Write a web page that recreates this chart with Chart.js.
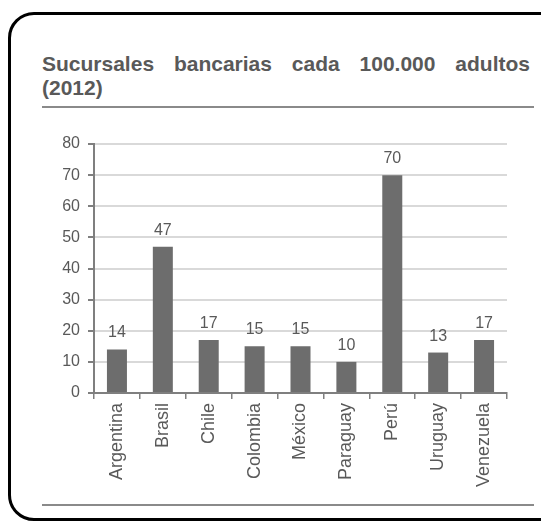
<!DOCTYPE html>
<html>
<head>
<meta charset="utf-8">
<script src="https://cdn.jsdelivr.net/npm/chart.js@4"></script>
<style>
  html, body { margin: 0; background: #fff; overflow: hidden; width: 541px; height: 524px; }
  #frame {
    position: absolute; left: 8px; top: 12px; width: 570px; height: 503px;
    border: 3px solid #000; border-radius: 26px;
  }
  #title {
    position: absolute; left: 42px; top: 52px; width: 492px;
    font: bold 21px "Liberation Sans", Arial, sans-serif; color: #595959;
    line-height: 24px; padding-bottom: 6px; border-bottom: 2px solid #8a8a8a;
  }
  #title .l1 { width: 488px; text-align: justify; text-align-last: justify; }
  .rule { position: absolute; left: 42px; width: 492px; height: 2px; background: #8a8a8a; }
  #chartBox { position: absolute; left: 30px; top: 125px; width: 485px; height: 375px; }
</style>
</head>
<body>
<div id="frame"></div>
<div id="title"><div class="l1">Sucursales bancarias cada 100.000 adultos</div><div>(2012)</div></div>
<div id="chartBox"><canvas id="chart"></canvas></div>
<div class="rule" style="top:504px"></div>
<script>
const paises = ['Argentina', 'Brasil', 'Chile', 'Colombia', 'México', 'Paraguay', 'Perú', 'Uruguay', 'Venezuela'];
const sucursales = [14, 47, 17, 15, 15, 10, 70, 13, 17];
const ejeY = [0, 10, 20, 30, 40, 50, 60, 70, 80];

const textColor = '#595959';
const fontFamily = '"Liberation Sans", Arial, sans-serif';

// valores encima de cada barra
const barLabels = {
  id: 'barLabels',
  afterDatasetsDraw(chart) {
    const ctx = chart.ctx;
    const meta = chart.getDatasetMeta(0);
    ctx.save();
    ctx.font = '16px ' + fontFamily;
    ctx.fillStyle = textColor;
    ctx.textAlign = 'center';
    ctx.textBaseline = 'alphabetic';
    meta.data.forEach((bar, i) => {
      ctx.fillText(String(sucursales[i]), bar.x, bar.y - 12);
    });
    ctx.restore();
  }
};

new Chart(document.getElementById('chart'), {
  type: 'bar',
  data: {
    labels: paises,
    datasets: [{
      data: sucursales,
      backgroundColor: '#6d6d6d',
      barPercentage: 0.436,
      categoryPercentage: 1
    }]
  },
  options: {
    responsive: true,
    maintainAspectRatio: false,
    animation: false,
    layout: { padding: { top: 19, right: 8, left: 0, bottom: 0 } },
    plugins: { legend: { display: false }, tooltip: { enabled: false } },
    scales: {
      x: {
        grid: { drawOnChartArea: false, drawTicks: true, tickLength: 6, tickColor: '#7f7f7f', lineWidth: 1.5 },
        border: { color: '#7f7f7f', width: 2 },
        ticks: {
          color: textColor, font: { family: fontFamily, size: 18 },
          maxRotation: 90, minRotation: 90, padding: 4, autoSkip: false
        },
        afterFit(scale) { scale.height = 107; }
      },
      y: {
        min: 0, max: 80,
        afterBuildTicks(scale) { scale.ticks = ejeY.map(v => ({ value: v })); },
        grid: { color: '#d9d9d9', lineWidth: 2, tickLength: 6, tickColor: '#7f7f7f' },
        border: { color: '#7f7f7f', width: 2 },
        ticks: { color: textColor, font: { family: fontFamily, size: 16 }, padding: 8 },
        afterFit(scale) { scale.width = 64; }
      }
    }
  },
  plugins: [barLabels]
});
</script>
</body>
</html>
